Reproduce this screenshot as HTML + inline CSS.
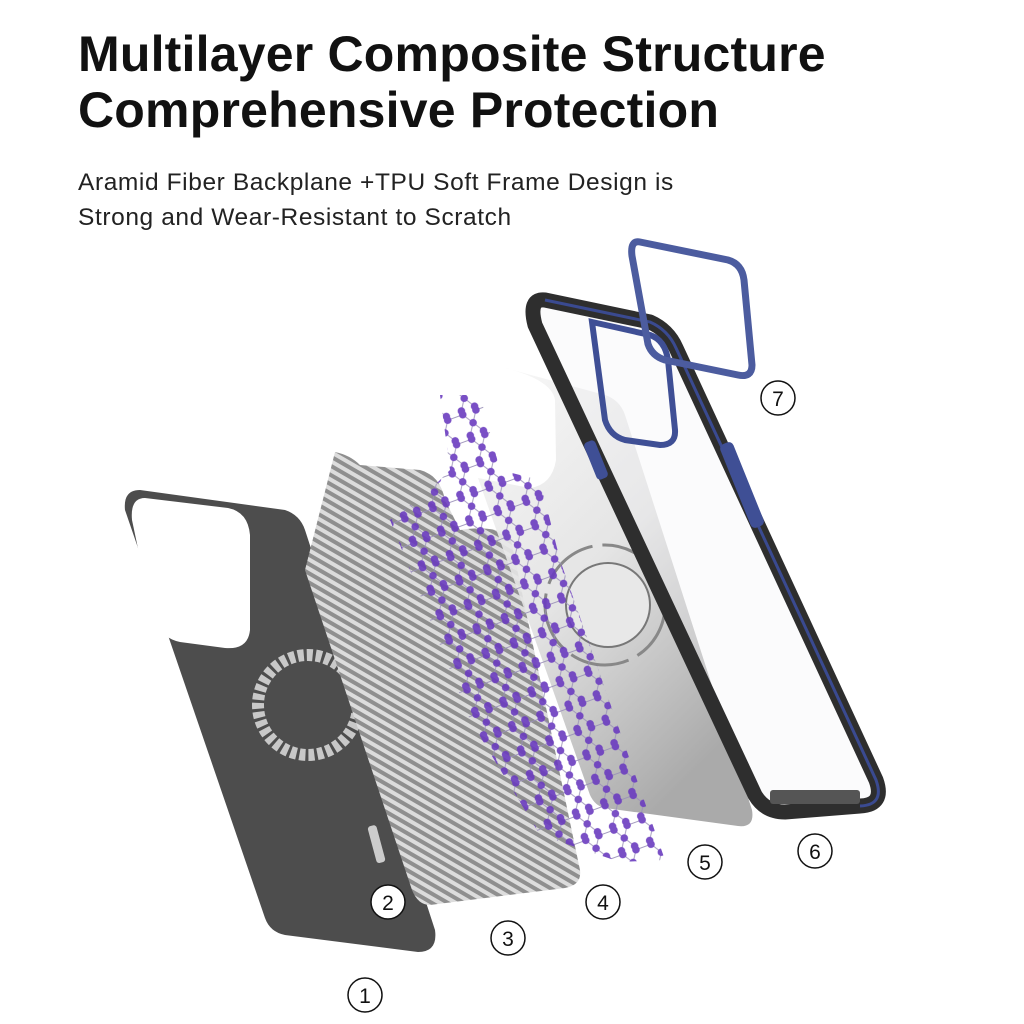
<!DOCTYPE html>
<html><head><meta charset="utf-8"><style>
html,body{margin:0;padding:0;background:#fff;width:1024px;height:1024px;overflow:hidden}
.t{position:absolute;left:78px;font-family:"Liberation Sans",sans-serif;color:#111}
</style></head><body>
<div class="t" style="top:26px;font-size:50px;line-height:56px;font-weight:bold;letter-spacing:0.2px">Multilayer Composite Structure<br>Comprehensive Protection</div>
<div class="t" style="top:165px;font-size:24.5px;line-height:35px;color:#222;letter-spacing:0.6px">Aramid Fiber Backplane +TPU Soft Frame Design is<br>Strong and Wear-Resistant to Scratch</div>
<svg width="1024" height="1024" style="position:absolute;left:0;top:0">
<defs>
<pattern id="carbon" width="8" height="8" patternUnits="userSpaceOnUse" patternTransform="rotate(30)">
<rect width="8" height="8" fill="#8f8f8f"/><rect width="8" height="4" fill="#dcdcdc"/>
</pattern>
<pattern id="hex" width="30" height="26" patternUnits="userSpaceOnUse" patternTransform="rotate(-20)">
<path d="M0 13 L7 2 L23 2 L30 13 M7 24 L0 13 M23 24 L30 13" stroke="#9a90b8" stroke-width="1" fill="none"/>
<circle cx="7" cy="2" r="3.8" fill="#6a3bbf"/><circle cx="23" cy="2" r="3.8" fill="#6a3bbf"/>
<circle cx="0" cy="13" r="3.8" fill="#6a3bbf"/><circle cx="30" cy="13" r="3.8" fill="#6a3bbf"/>
<circle cx="7" cy="24" r="3.8" fill="#6a3bbf"/><circle cx="23" cy="24" r="3.8" fill="#6a3bbf"/>
</pattern>
<linearGradient id="g5" x1="0" y1="0" x2="0.6" y2="1"><stop offset="0" stop-color="#f8f8f8"/><stop offset="0.5" stop-color="#e2e2e2"/><stop offset="1" stop-color="#a0a0a0"/></linearGradient>
</defs>
<!-- layer 1 -->
<path d="M140 490 L285 510 Q300 515 305 530 L435 930 Q438 952 418 952 L285 935 Q270 932 265 918 L125 510 Q123 490 140 490 Z" fill="#4d4d4d"/>
<path d="M145 498 L228 508 Q248 512 250 535 L250 630 Q248 650 225 648 L180 642 Q160 638 152 615 L132 520 Q130 498 145 498 Z" fill="#fff"/>
<circle cx="308" cy="705" r="50" fill="none" stroke="#c8c8c8" stroke-width="12" stroke-dasharray="6 3"/>
<rect x="372" y="825" width="9" height="38" rx="3" fill="#ccc" transform="rotate(-15 377 844)"/>
<!-- layer 3 -->
<path d="M335 452 Q350 455 360 465 L420 470 Q440 475 445 500 L460 530 Q490 525 510 535 L580 870 Q582 885 565 888 L430 905 Q418 905 412 890 L305 570 Z" fill="url(#carbon)"/>
<!-- layer 5 -->
<path d="M505 368 L605 395 Q620 400 625 415 L752 810 Q755 828 738 826 L605 808 Q595 806 590 795 L478 478 L530 488 Q552 485 556 460 L555 400 Q552 380 505 368 Z" fill="url(#g5)" opacity="0.9"/>
<circle cx="605" cy="605" r="60" fill="none" stroke="#888" stroke-width="3" stroke-dasharray="60 10"/>
<circle cx="608" cy="605" r="42" fill="#e8e8e8" stroke="#777" stroke-width="2"/>
<!-- layer 4 -->
<path d="M440 395 L480 395 L500 470 L540 480 L560 560 L665 860 L620 862 L540 835 L470 720 L390 520 L430 490 L450 470 Z" fill="url(#hex)" opacity="0.9"/>
<!-- layer 6 frame -->
<path d="M545 300 L650 322 Q668 330 676 348 L876 780 Q885 805 860 806 L785 812 Q765 812 755 795 L535 325 Q528 298 545 300 Z" fill="rgba(240,240,245,0.25)" stroke="#2e2e2e" stroke-width="15" stroke-linejoin="round"/>
<path d="M545 300 L650 322 Q668 330 676 348 L876 780 Q885 805 860 806" fill="none" stroke="#3a4a90" stroke-width="3"/>
<path d="M592 322 L650 335 Q665 340 668 360 L675 430 Q676 445 660 445 L625 440 Q610 436 605 420 Z" fill="none" stroke="#3f4f95" stroke-width="6"/>
<rect x="590" y="440" width="12" height="40" rx="4" fill="#3f4f95" transform="rotate(-22 596 460)"/>
<rect x="735" y="440" width="14" height="90" rx="5" fill="#3f4f95" transform="rotate(-22 742 485)"/>
<rect x="770" y="790" width="90" height="14" rx="3" fill="#555"/>
<!-- layer 7 ring -->
<path d="M640 242 L728 260 Q742 264 744 280 L752 365 Q752 378 738 375 L665 360 Q652 356 648 344 L632 256 Q630 240 640 242 Z" fill="none" stroke="#4c5c9f" stroke-width="7"/>
<!-- numbers -->
<g fill="#fff" stroke="#111" stroke-width="1.5">
<circle cx="365" cy="995" r="17"/><circle cx="388" cy="902" r="17"/><circle cx="508" cy="938" r="17"/>
<circle cx="603" cy="902" r="17"/><circle cx="705" cy="862" r="17"/><circle cx="815" cy="851" r="17"/><circle cx="778" cy="398" r="17"/>
</g>
<g fill="#111" font-family="Liberation Sans,sans-serif" font-size="21" text-anchor="middle">
<text x="365" y="1003">1</text><text x="388" y="910">2</text><text x="508" y="946">3</text>
<text x="603" y="910">4</text><text x="705" y="870">5</text><text x="815" y="859">6</text><text x="778" y="406">7</text>
</g>
</svg>
</body></html>
